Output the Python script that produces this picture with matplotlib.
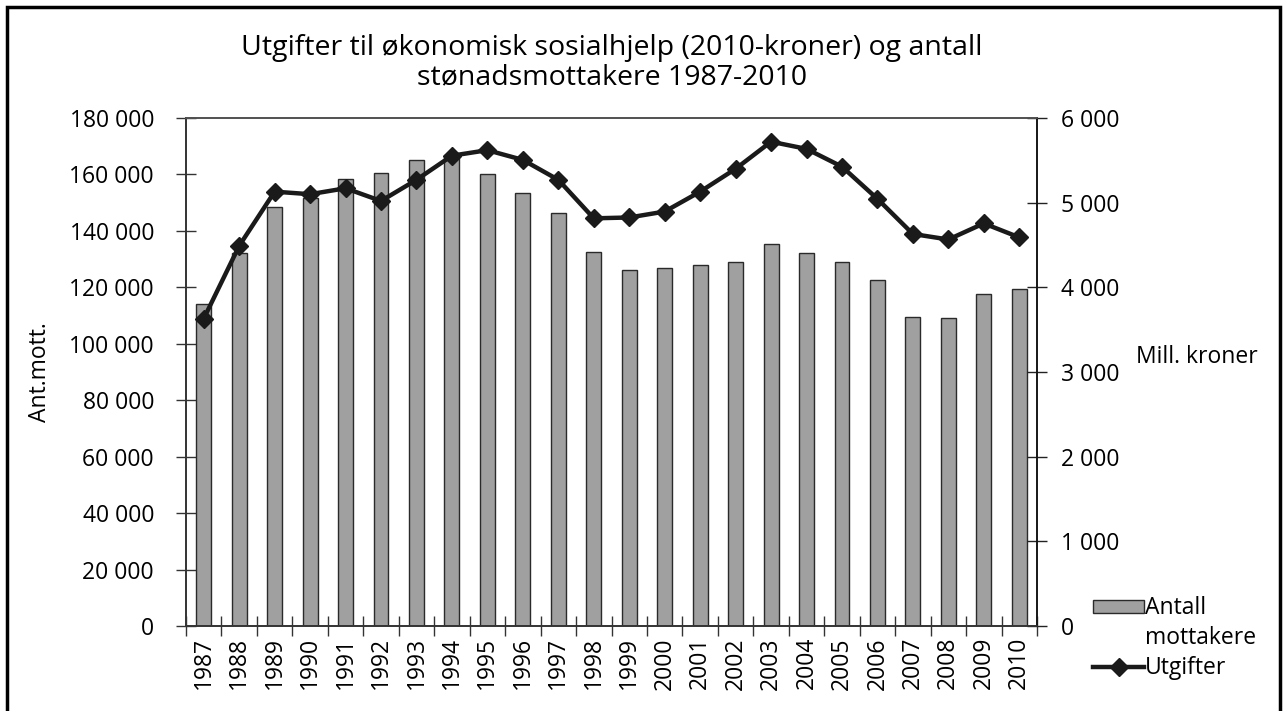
import matplotlib
matplotlib.use("Agg")
import matplotlib.pyplot as plt
from matplotlib.patches import Rectangle, Patch
from matplotlib.lines import Line2D
from matplotlib.ticker import FuncFormatter
import numpy as np

years = [str(y) for y in range(1987, 2011)]
mottakere = [114000, 132000, 148500, 151500, 158500, 160500, 165000, 167000,
             160000, 153500, 146500, 132500, 126000, 127000, 128000, 129000,
             135500, 132000, 129000, 122500, 109500, 109000, 117500, 119500]
utgifter = [3630, 4490, 5130, 5100, 5170, 5020, 5270, 5555,
            5620, 5505, 5270, 4815, 4825, 4895, 5130, 5400,
            5720, 5635, 5425, 5045, 4630, 4565, 4755, 4590]

plt.rcParams['font.family'] = ['Open Sans', 'DejaVu Sans']
FS = 16.5
BAR = "#a0a0a0"
LINE = "#1a1a1a"

fig = plt.figure(figsize=(12.85, 7.11), dpi=100)
ax = fig.add_axes([186 / 1285, 1 - 626 / 711, (1037 - 186) / 1285, (626 - 118) / 711])
ax2 = ax.twinx()

x = np.arange(len(years))
ax.bar(x, mottakere, width=0.42, color=BAR, edgecolor="#2a2a2a", linewidth=1.0, zorder=2)
ax2.plot(x, utgifter, color=LINE, lw=3.2, marker="D", markersize=9.5, zorder=3)

ax.set_xlim(-0.5, len(years) - 0.5)
ax.set_ylim(0, 180000)
ax2.set_ylim(0, 6000)
ax.set_yticks(np.arange(0, 180001, 20000))
ax2.set_yticks(np.arange(0, 6001, 1000))
fmt = FuncFormatter(lambda v, p: f"{int(v):,}".replace(",", " "))
ax.yaxis.set_major_formatter(fmt)
ax2.yaxis.set_major_formatter(fmt)

# year labels centred under bars, ticks on category boundaries
ax.set_xticks(x)
ax.set_xticklabels(years, rotation=90, fontsize=FS)
ax.tick_params(axis="x", length=0, pad=8)
ax.set_xticks(np.arange(-0.5, len(years), 1), minor=True)
ax.tick_params(axis="x", which="minor", direction="inout", length=14, width=1, color="#333333")
ax.tick_params(axis="y", direction="inout", length=14, width=1, color="#333333", labelsize=FS, pad=16)
ax2.tick_params(axis="y", direction="inout", length=14, width=1, color="#222222", labelsize=FS, pad=10)

for a in (ax, ax2):
    for s in a.spines.values():
        s.set_color("#333333")
        s.set_linewidth(1.2)
ax2.spines["right"].set_color("#111111")
ax2.spines["top"].set_color("#555555")

fig.text(40 / 1285, 1 - 372 / 711, "Ant.mott.", rotation=90, fontsize=FS, ha="center", va="center")
fig.text(1197 / 1285, 1 - 357 / 711, "Mill. kroner", fontsize=FS, ha="center", va="center")

fig.text(612 / 1285, 1 - 63 / 711,
         "Utgifter til økonomisk sosialhjelp (2010-kroner) og antall\nstønadsmottakere 1987-2010",
         fontsize=20.5, ha="center", va="center", linespacing=1.05)

handles = [Patch(facecolor=BAR, edgecolor="#2a2a2a", linewidth=1.0),
           Patch(alpha=0),
           Line2D([], [], color=LINE, lw=3.2, marker="D", markersize=9.5)]
fig.legend(handles, ["Antall", "mottakere", "Utgifter"], loc="upper left",
           bbox_to_anchor=(1082 / 1285, 1 - 585 / 711), frameon=False, fontsize=FS,
           handlelength=2.2, handleheight=0.5, handletextpad=0.05, labelspacing=0.25,
           borderpad=0)

fig.patches.append(Rectangle((7 / 1285, -0.05), (1280 - 7) / 1285, 1.05 - 7 / 711,
                             transform=fig.transFigure, fill=False, edgecolor="black", lw=2.5))

fig.savefig("out.png", dpi=100)
